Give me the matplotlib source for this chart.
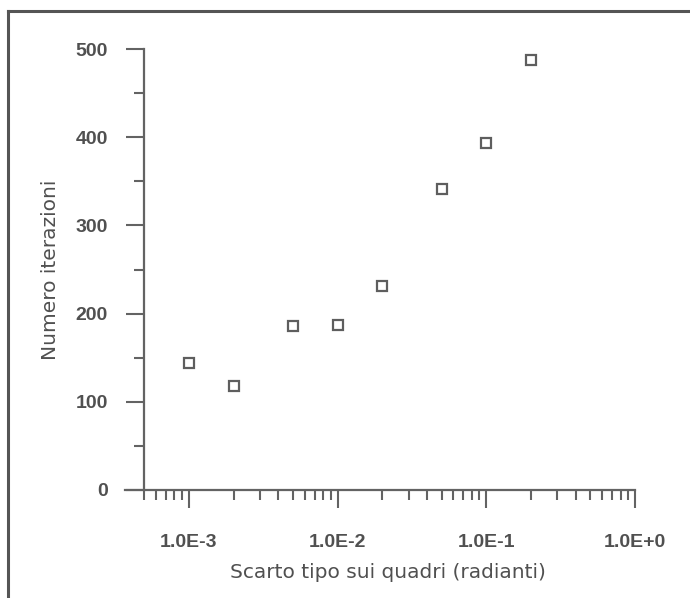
import matplotlib
matplotlib.use("Agg")
import matplotlib.pyplot as plt
from matplotlib.lines import Line2D
from matplotlib.ticker import FixedLocator, FixedFormatter, MultipleLocator

# ---- data ----
sigma = [1e-3, 2e-3, 5e-3, 1e-2, 2e-2, 5e-2, 1e-1, 2e-1]
iterations = [144, 118, 186, 187, 231, 341, 393, 488]
x_major = [1e-3, 1e-2, 1e-1, 1e0]
x_labels = ["1.0E-3", "1.0E-2", "1.0E-1", "1.0E+0"]
y_major = [0, 100, 200, 300, 400, 500]
xlabel = "Scarto tipo sui quadri (radianti)"
ylabel = "Numero iterazioni"

axis_col = "#636363"
text_col = "#505050"

fig = plt.figure(figsize=(6.9, 5.98), dpi=100)
fig.patch.set_facecolor("white")
ax = fig.add_axes([125 / 690, (598 - 490) / 598, 510 / 690, 441 / 598])

ax.plot(sigma, iterations, linestyle="none", marker="s", markersize=6.8,
        markerfacecolor="none", markeredgecolor="#5e5e5e", markeredgewidth=1.6,
        clip_on=False)

ax.set_xscale("log")
ax.set_xlim(3.72e-4, 1.0)
ax.set_ylim(0, 500)

for s in ["top", "right"]:
    ax.spines[s].set_visible(False)
ax.spines["left"].set_position(("data", 5e-4))
for s in ["left", "bottom"]:
    ax.spines[s].set_color(axis_col)
    ax.spines[s].set_linewidth(1.6)

ax.xaxis.set_major_locator(FixedLocator(x_major))
ax.xaxis.set_major_formatter(FixedFormatter(x_labels))
minors = [m * 1e-4 for m in range(5, 10)]
for dec in [1e-3, 1e-2, 1e-1]:
    minors += [m * dec for m in range(2, 10)]
ax.xaxis.set_minor_locator(FixedLocator(minors))
ax.xaxis.set_minor_formatter(FixedFormatter([""] * len(minors)))

ax.yaxis.set_major_locator(FixedLocator(y_major))
ax.yaxis.set_minor_locator(MultipleLocator(50))

ax.tick_params(axis="both", which="major", direction="out", length=13, width=1.5,
               color=axis_col, labelcolor=text_col, labelsize=14)
ax.tick_params(axis="both", which="minor", direction="out", length=7.5, width=1.5,
               color=axis_col)
ax.tick_params(axis="x", which="major", pad=19)
ax.tick_params(axis="y", which="major", pad=13)
for lab in ax.get_xticklabels() + ax.get_yticklabels():
    lab.set_fontfamily("Liberation Sans")
    lab.set_fontweight("bold")

ax.set_xlabel(xlabel, fontsize=14.5, color=text_col, family="DejaVu Sans")
ax.xaxis.set_label_coords((388 - 125) / 510, -(572 - 490) / 441)
ax.xaxis.label.set_va("center")
ax.set_ylabel(ylabel, fontsize=14.5, color=text_col, family="DejaVu Sans")
ax.yaxis.set_label_coords((51 - 125) / 510, 0.5)
ax.yaxis.label.set_va("center")

# scan frame
fy = 1 - 11 / 598
fx = 8 / 690
fig.add_artist(Line2D([fx, 1.0], [fy, fy], transform=fig.transFigure,
                      color="#555555", linewidth=2.2))
fig.add_artist(Line2D([fx, fx], [0, fy], transform=fig.transFigure,
                      color="#555555", linewidth=2.2))

fig.savefig("out.png", dpi=100)
